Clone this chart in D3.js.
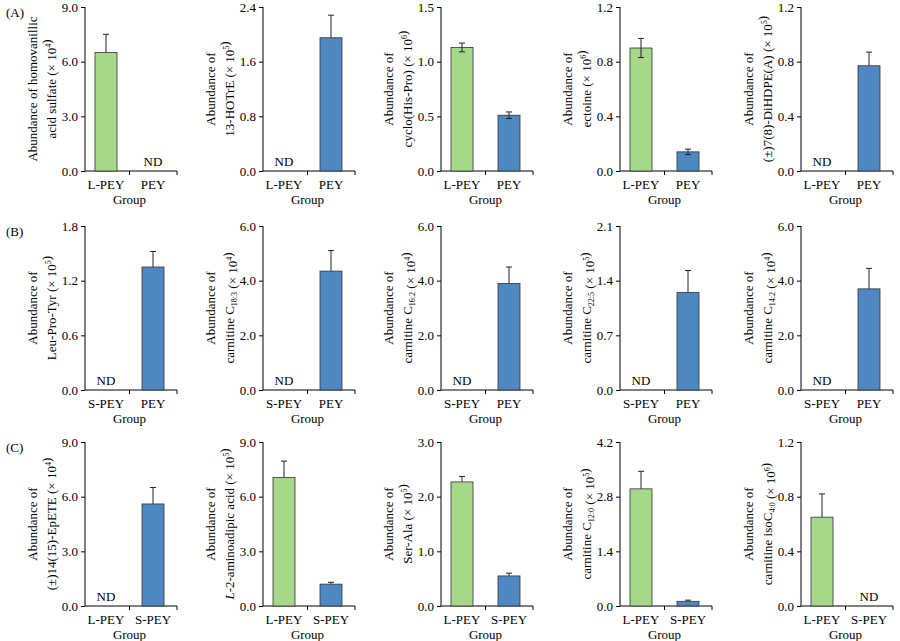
<!DOCTYPE html>
<html><head><meta charset="utf-8">
<script src="https://cdn.jsdelivr.net/npm/d3@7"></script>
<style>body{margin:0;background:#fff}text{font-family:"Liberation Serif","DejaVu Serif",serif}</style>
</head><body><svg id="c" width="900" height="641"></svg>
<script>
const rowLabels = ["(A)","(B)","(C)"];
const groups = [["L-PEY","PEY"],["S-PEY","PEY"],["L-PEY","S-PEY"]];
const yMax = [[9,2.4,1.5,1.2,1.2],[1.8,6,6,2.1,6],[9,9,3,4.2,1.2]];
const yLabels = [
 [["Abundance of homovanillic","acid sulfate (× 10^{4})"],["Abundance of","13-HOTrE (× 10^{5})"],["Abundance of","cyclo(His-Pro) (× 10^{6})"],["Abundance of","ectoine (× 10^{6})"],["Abundance of","(±)7(8)-DiHDPE(A) (× 10^{5})"]],
 [["Abundance of","Leu-Pro-Tyr (× 10^{5})"],["Abundance of","carnitine C_{18:3} (× 10^{4})"],["Abundance of","carnitine C_{16:2} (× 10^{4})"],["Abundance of","carnitine C_{22:5} (× 10^{5})"],["Abundance of","carnitine C_{14:2} (× 10^{4})"]],
 [["Abundance of","(±)14(15)-EpETE (× 10^{4})"],["Abundance of","*L*-2-aminoadipic acid (× 10^{5})"],["Abundance of","Ser-Ala (× 10^{5})"],["Abundance of","carnitine C_{12:0} (× 10^{5})"],["Abundance of","carnitine isoC_{4:0} (× 10^{6})"]]
];
const values = [
 [[6.5,null],[null,1.95],[1.13,0.51],[0.90,0.14],[null,0.77]],
 [[null,1.35],[null,4.35],[null,3.9],[null,1.25],[null,3.7]],
 [[null,5.6],[7.05,1.2],[2.27,0.55],[3.0,0.12],[0.65,null]]
];
const errors = [
 [[1.0,0],[0,0.33],[0.04,0.03],[0.07,0.02],[0,0.10]],
 [[0,0.17],[0,0.75],[0,0.6],[0,0.28],[0,0.75]],
 [[0,0.9],[0.9,0.1],[0.1,0.05],[0.45,0.03],[0.17,0]]
];
const twoSided = [[false,false,true,true,false],[false,false,false,false,false],[false,false,false,false,false]];

const svg = d3.select("#c");
const axX = [85,263,441,620,801], pw = 92;
const rowTop = [7,226,442], ph = 164;
const colors = {"L-PEY":"#a5d889","S-PEY":"#4f87c2","PEY":"#4f87c2"};
const re = /(\^\{[^}]*\}|_\{[^}]*\}|\*[^*]*\*)/g;

rowLabels.forEach((rl,r)=>{
  svg.append("text").attr("x",6).attr("y",rowTop[r]+10).attr("font-size",13).text(rl);
  for(let c=0;c<5;c++){
    const g = svg.append("g").attr("transform",`translate(${axX[c]},${rowTop[r]})`);
    const y = d3.scaleLinear().domain([0,yMax[r][c]]).range([ph,0]);
    const x = d3.scalePoint().domain(groups[r]).range([21,68]);
    const ticks = d3.range(4).map(i=>yMax[r][c]*i/3);
    g.append("g").call(d3.axisLeft(y).tickValues(ticks).tickFormat(d3.format(".1f")).tickSize(4).tickSizeOuter(0))
      .call(a=>a.selectAll("text").attr("font-size",13).attr("font-family","Liberation Serif"))
      .call(a=>a.select(".domain").attr("d",`M0,0V${ph}`));
    const xa = g.append("g").attr("transform",`translate(0,${ph})`);
    xa.append("line").attr("x1",0).attr("x2",pw).attr("stroke","#000");
    xa.append("line").attr("x1",44.5).attr("x2",44.5).attr("y2",4).attr("stroke","#000");
    xa.append("line").attr("x1",pw).attr("x2",pw).attr("y2",4).attr("stroke","#000");
    groups[r].forEach(gr=>xa.append("text").attr("x",x(gr)).attr("y",18).attr("text-anchor","middle").attr("font-size",13).text(gr));
    g.append("text").attr("x",44.5).attr("y",ph+33).attr("text-anchor","middle").attr("font-size",13).text("Group");
    const bw = 22;
    groups[r].forEach((gr,i)=>{
      const v = values[r][c][i];
      const cx = x(gr);
      if(v===null){
        g.append("text").attr("x",cx).attr("y",ph-5).attr("text-anchor","middle").attr("font-size",13).text("ND");
        return;
      }
      const e = errors[r][c][i];
      const lo = twoSided[r][c] ? v-e : v;
      g.append("line").attr("x1",cx).attr("x2",cx).attr("y1",y(lo)).attr("y2",y(v+e)).attr("stroke","#222");
      g.append("line").attr("x1",cx-3).attr("x2",cx+3).attr("y1",y(v+e)).attr("y2",y(v+e)).attr("stroke","#222");
      g.append("rect").attr("x",cx-bw/2).attr("width",bw).attr("y",y(v)).attr("height",ph-y(v))
        .attr("fill",colors[gr]).attr("stroke","#333").attr("stroke-width",0.8);
      if(twoSided[r][c]){
        g.append("line").attr("x1",cx).attr("x2",cx).attr("y1",y(v)).attr("y2",y(lo)).attr("stroke","#222");
        g.append("line").attr("x1",cx-3).attr("x2",cx+3).attr("y1",y(lo)).attr("y2",y(lo)).attr("stroke","#222");
      }
    });
    const lab = yLabels[r][c];
    lab.forEach((ln,k)=>{
      const t = g.append("text").attr("transform",`translate(${k===0?-38:-22},${ph/2}) rotate(-90)`)
        .attr("text-anchor","middle").attr("font-size",13);
      ln.split(re).filter(s=>s!=="").forEach(s=>{
        if(s.startsWith("^{")) { t.append("tspan").attr("dy",-5).attr("font-size",8).text(s.slice(2,-1)); t.append("tspan").attr("dy",5).text(""); }
        else if(s.startsWith("_{")) { t.append("tspan").attr("dy",3).attr("font-size",8).text(s.slice(2,-1)); t.append("tspan").attr("dy",-3).text(""); }
        else if(s.startsWith("*")) t.append("tspan").attr("font-style","italic").text(s.slice(1,-1));
        else t.append("tspan").text(s);
      });
      t.attr("transform",`translate(${(k===0?-52:-33)+4},${ph/2}) rotate(-90)`);
    });
  }
});
</script></body></html>
